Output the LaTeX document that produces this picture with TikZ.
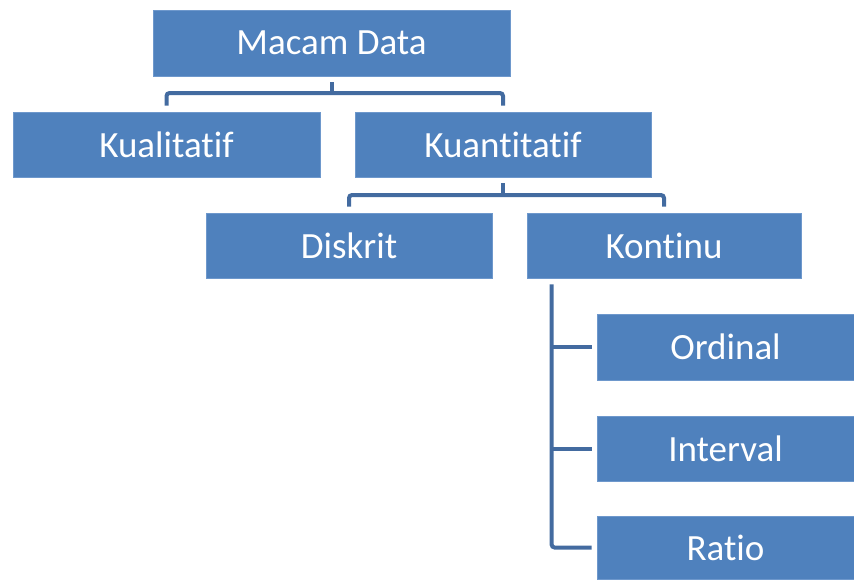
\documentclass[tikz,border=0pt]{standalone}
\usepackage{fontspec}
\setmainfont{Carlito}[Ligatures={NoCommon,NoDiscretionary}]
\usepackage{tikz}

\definecolor{boxblue}{RGB}{79,129,189}
\definecolor{boxedge}{RGB}{110,152,204}
\definecolor{linkblue}{RGB}{67,107,160}

\begin{document}
\begin{tikzpicture}[x=1pt,y=-1pt,
    box/.style={rectangle,fill=boxblue,draw=boxedge,line width=0.8pt,inner sep=0pt,
        text=white,font=\fontsize{37}{40}\selectfont},
    link/.style={draw=linkblue,line width=4pt,rounded corners=3pt}]
    \useasboundingbox (0,0) rectangle (854,579);
    % Draw boxes
    \node[box,minimum width=357pt,minimum height=66pt] (macam) at (331.5,43) {Macam Data};
    \node[box,minimum width=307pt,minimum height=65pt] (kual) at (166.5,144.5) {Kualitatif};
    \node[box,minimum width=296pt,minimum height=65pt] (kuan) at (503,144.5) {Kuantitatif};
    \node[box,minimum width=286pt,minimum height=65pt] (diskrit) at (349,245.5) {Diskrit};
    \node[box,minimum width=274pt,minimum height=65pt] (kontinu) at (664,245.5) {Kontinu};
    \node[box,minimum width=257pt,minimum height=66pt] (ordinal) at (725.5,347) {Ordinal};
    \node[box,minimum width=257pt,minimum height=65pt] (interval) at (725.5,448.5) {Interval};
    \node[box,minimum width=257pt,minimum height=63pt] (ratio) at (725.5,547.5) {Ratio};

    % Draw brackets
    \coordinate (j1) at (331.5,93);
    \draw[link] ([yshift=-6pt]macam.south) -- (j1);
    \draw[link] ([yshift=6pt]kual.north) |- (j1) -| ([yshift=6pt]kuan.north);
    \coordinate (j2) at (503,195);
    \draw[link] ([yshift=-6pt]kuan.south) -- (j2);
    \draw[link] ([yshift=6pt]diskrit.north) |- (j2) -| ([yshift=6pt]kontinu.north);

    % Kontinu tree
    \coordinate (trunk) at ([xshift=25pt,yshift=-6pt]kontinu.south west);
    \draw[link] (trunk) |- ([xshift=-5pt]ratio.west);
    \foreach \n in {ordinal,interval}
        \draw[link] ([xshift=-5pt]\n.west) -- (\n.west -| trunk);
\end{tikzpicture}
\end{document}
